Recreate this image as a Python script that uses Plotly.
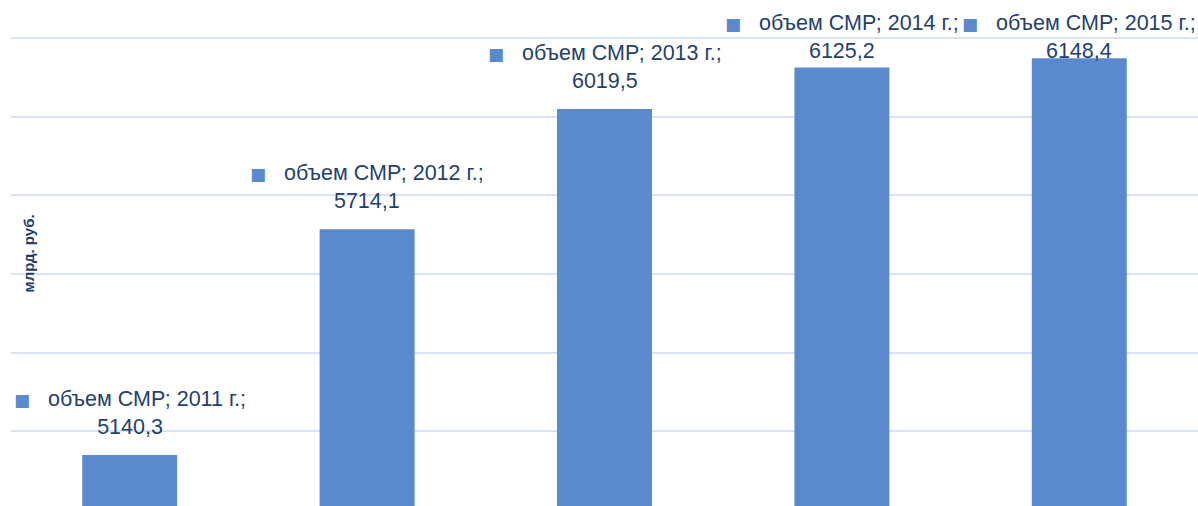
import plotly.graph_objects as go

years = ["2011 г.", "2012 г.", "2013 г.", "2014 г.", "2015 г."]
values = [5140.3, 5714.1, 6019.5, 6125.2, 6148.4]
series_name = "объем СМР"
y_title = "млрд. руб."

BAR_COLOR = "#5a8acd"
TEXT_COLOR = "#243f6c"
GRID_COLOR = "#dae3f3"
FONT = "Liberation Sans"
LABEL_CAP = 6095

fig = go.Figure()
fig.add_trace(go.Bar(
    x=years, y=values, width=0.4,
    marker=dict(color=BAR_COLOR, line=dict(width=0)),
    name=series_name, showlegend=False, hoverinfo="skip",
))

def fmt(v):
    return f"{v:.1f}".replace(".", ",")

for cat, v in zip(years, values):
    fig.add_annotation(
        x=cat, y=min(v, LABEL_CAP), xref="x", yref="y",
        yanchor="bottom", yshift=14, showarrow=False,
        text=(f"<span style='color:{BAR_COLOR};font-family:DejaVu Sans;font-size:17px'>■</span>"
              f"&nbsp;&nbsp;&nbsp;{series_name}; {cat};<br>{fmt(v)}"),
        font=dict(family=FONT, size=21.5, color=TEXT_COLOR),
        align="center",
    )

fig.add_annotation(
    x=0.0147, y=0.5, xref="paper", yref="paper", showarrow=False,
    xanchor="center", yanchor="middle",
    text=f"<b>{y_title}</b>", textangle=-90,
    font=dict(family=FONT, size=15, color="#1f3a68"),
)

fig.update_layout(
    width=1198, height=506,
    margin=dict(l=11, r=0, t=0, b=0),
    paper_bgcolor="white", plot_bgcolor="white",
    xaxis=dict(showticklabels=False, showgrid=False, zeroline=False,
               range=[-0.5, 4.5]),
    yaxis=dict(range=[5010.5, 6296.7], dtick=200, tick0=5000,
               showticklabels=False, showgrid=True, gridcolor=GRID_COLOR,
               gridwidth=2, zeroline=False, ticks=""),
    bargap=0.6,
)

fig.write_html("out.html", config={"displayModeBar": False},
               post_script="document.body.style.margin='0px';")
